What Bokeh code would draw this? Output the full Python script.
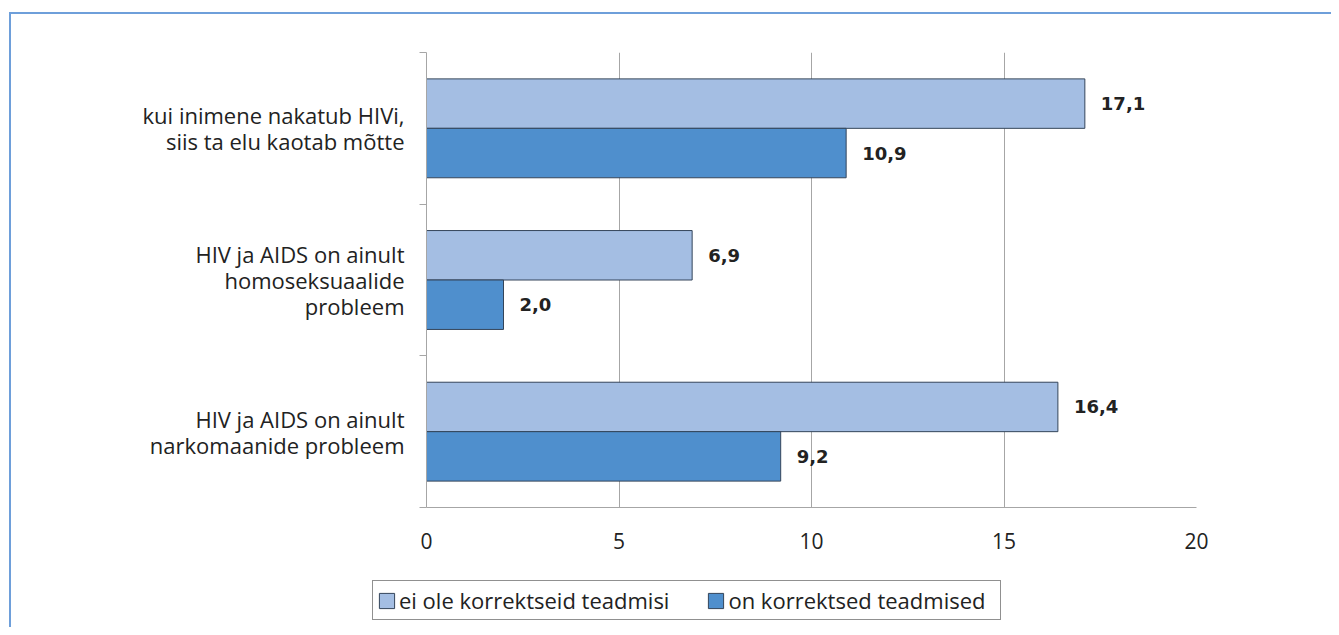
from bokeh.plotting import figure
from bokeh.layouts import column
from bokeh.models import ColumnDataSource, FixedTicker, Legend, LegendItem
from bokeh.core.properties import value
from bokeh.embed import file_html
from bokeh.resources import INLINE

categories = [
    "kui inimene nakatub HIVi,\nsiis ta elu kaotab mõtte",
    "HIV ja AIDS on ainult\nhomoseksuaalide\nprobleem",
    "HIV ja AIDS on ainult\nnarkomaanide probleem",
]
cat_pos = [2.5, 1.5, 0.5]
series_names = ["ei ole korrektseid teadmisi", "on korrektsed teadmised"]
no_knowledge = [17.1, 6.9, 16.4]
knowledge = [10.9, 2.0, 9.2]
x_ticks = [0, 5, 10, 15, 20]

LIGHT = "#a4bee3"
DARK = "#4f8fcd"
EDGE = "#34455a"
GRID = "#a6a6a6"
TXT = "#222222"
FONT = "Open Sans"

W = 1320
p = figure(width=W, height=553, x_range=(0, 20), y_range=(0, 3),
           output_backend="svg", toolbar_location=None,
           min_border_left=415, min_border_right=135,
           min_border_top=38, min_border_bottom=60)
p.outline_line_color = None

bar_h = 0.326
off = 0.163
fmt = lambda v: f"{v:.1f}".replace(".", ",")

src1 = ColumnDataSource(dict(y=[c + off for c in cat_pos], x=no_knowledge,
                             lab=[fmt(v) for v in no_knowledge]))
src2 = ColumnDataSource(dict(y=[c - off for c in cat_pos], x=knowledge,
                             lab=[fmt(v) for v in knowledge]))

p.hbar(y="y", right="x", left=0, height=bar_h, source=src1,
       fill_color=LIGHT, line_color=EDGE, line_width=1)
p.hbar(y="y", right="x", left=0, height=bar_h, source=src2,
       fill_color=DARK, line_color=EDGE, line_width=1)

for s in (src1, src2):
    p.text(x="x", y="y", text="lab", source=s, x_offset=16,
           text_baseline="middle", text_align="left",
           text_font=value("DejaVu Sans"), text_font_style="bold",
           text_font_size="18px", text_color=TXT)

p.xgrid.ticker = FixedTicker(ticks=x_ticks)
p.xgrid.grid_line_color = GRID
p.ygrid.grid_line_color = None

p.xaxis.ticker = FixedTicker(ticks=x_ticks)
p.xaxis.axis_line_color = GRID
p.xaxis.major_tick_line_color = None
p.xaxis.minor_tick_line_color = None
p.xaxis.major_label_text_font = FONT
p.xaxis.major_label_text_font_size = "21px"
p.xaxis.major_label_text_color = TXT
p.xaxis.major_label_standoff = 19

p.yaxis.ticker = FixedTicker(ticks=cat_pos, minor_ticks=[0, 1, 2, 3])
p.yaxis.major_label_overrides = {c: l for c, l in zip(cat_pos, categories)}
p.yaxis.axis_line_color = GRID
p.yaxis.major_tick_line_color = None
p.yaxis.minor_tick_line_color = GRID
p.yaxis.minor_tick_out = 7
p.yaxis.minor_tick_in = 0
p.yaxis.major_label_text_font = FONT
p.yaxis.major_label_text_font_size = "22px"
p.yaxis.major_label_text_line_height = 0.86
p.yaxis.major_label_text_color = TXT
p.yaxis.major_label_standoff = 15

# legend figure (its bars lie outside its visible range; only the legend shows)
p2 = figure(width=W, height=60, x_range=(0, 20), y_range=(10, 11),
            output_backend="svg", toolbar_location=None,
            x_axis_type=None, y_axis_type=None,
            min_border_left=0, min_border_right=0,
            min_border_top=0, min_border_bottom=0)
p2.frame_align = False
p2.outline_line_color = None
p2.grid.grid_line_color = None
g1 = p2.hbar(y="y", right="x", height=bar_h, source=src1,
             fill_color=LIGHT, line_color=EDGE)
g2 = p2.hbar(y="y", right="x", height=bar_h, source=src2,
             fill_color=DARK, line_color=EDGE)

legend = Legend(items=[LegendItem(label=series_names[0], renderers=[g1]),
                       LegendItem(label=series_names[1], renderers=[g2])],
                location=(361, 7), orientation="horizontal")
legend.border_line_color = "#222222"
legend.border_line_width = 1
legend.background_fill_color = "white"
legend.background_fill_alpha = 1
legend.label_text_font = FONT
legend.label_text_font_size = "22px"
legend.label_text_color = TXT
legend.glyph_width = 19
legend.glyph_height = 19
legend.label_standoff = 3
legend.label_width = 268
legend.spacing = 37
legend.padding = 4
legend.margin = 0
p2.add_layout(legend, "center")

layout = column(p, p2, spacing=0,
                styles={"border-left": "2px solid #6e9fda",
                        "border-top": "2px solid #6e9fda",
                        "margin-top": "12px", "margin-left": "9px"})

open("out.html", "w").write(file_html(layout, INLINE))
